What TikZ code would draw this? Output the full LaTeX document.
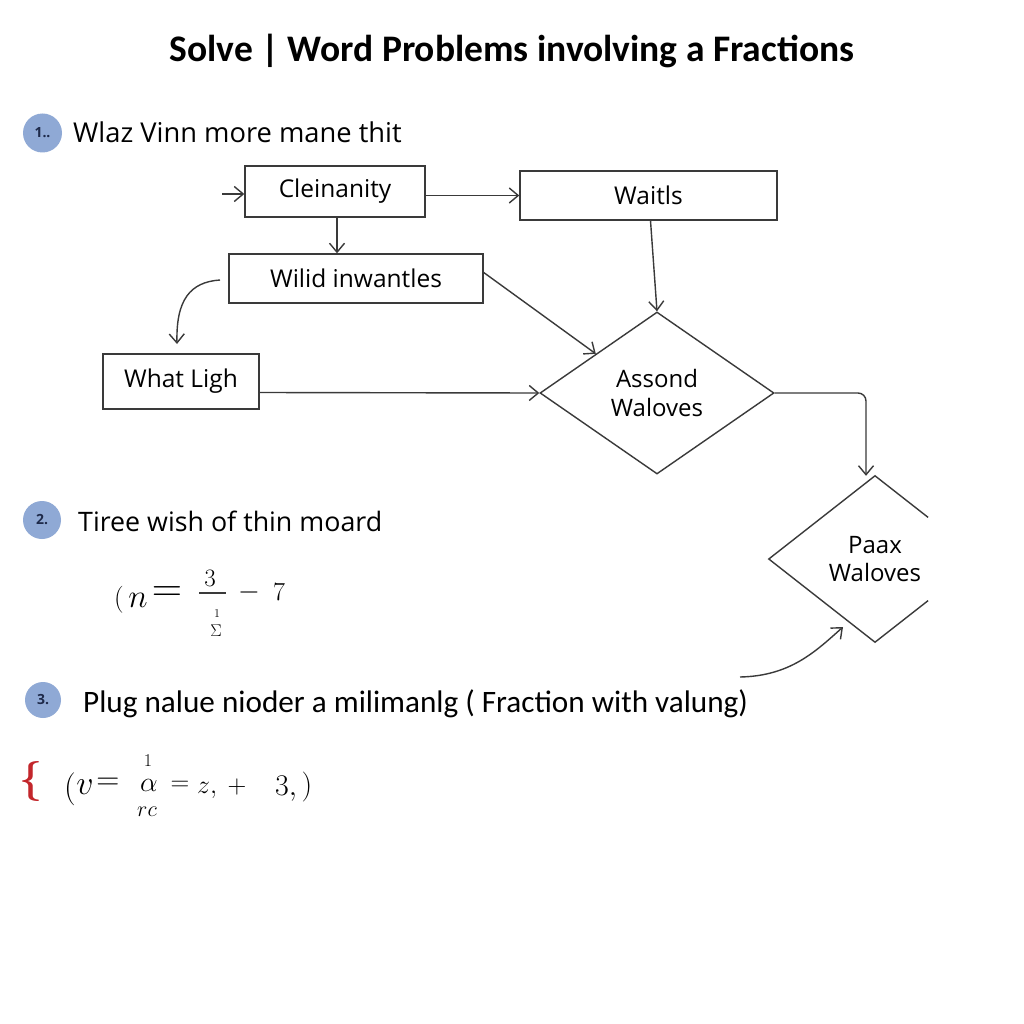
\RequirePackage{fix-cm}
\documentclass[tikz,border=0pt]{standalone}
\usepackage{fontspec}
\setmainfont{Open Sans}
\newfontfamily\calfont{Carlito}
\usetikzlibrary{arrows.meta,shapes.geometric,calc}
\definecolor{linec}{HTML}{3A3A3A}
\definecolor{numblue}{HTML}{8FA9D5}
\definecolor{navy}{HTML}{1E2A4A}
\definecolor{bracered}{HTML}{C3262B}
\newcommand{\fs}[1]{\fontsize{#1}{#1}\selectfont}
\begin{document}
\begin{tikzpicture}[x=1pt,y=-1pt,
  line/.style={draw=linec, line width=1.4pt},
  arr/.style={line, -{Straight Barb[length=9pt,width=15pt,line width=1.4pt]}},
  box/.style={draw=linec, line width=1.4pt, rectangle, inner sep=0pt, font=\fontsize{24.5}{28}\selectfont},
  dia/.style={diamond, inner sep=0pt, align=center, font=\fontsize{24}{28.5}\selectfont},
  num/.style={circle, fill=numblue, inner sep=0pt, text=navy, font=\bfseries\fs{14}},
  steptext/.style={anchor=base west, inner sep=0pt, text=black},
  mth/.style={inner sep=0pt, text=black}
]
\useasboundingbox[fill=white] (0,0) rectangle (1024,1024);

% title
\node[anchor=base, inner sep=0pt, font=\calfont\bfseries\fontsize{37.5}{40}\selectfont] (title) at (512,62) {Solve | Word Problems involving a Fractions};

% step 1
\node[num, minimum size=39pt] (n1) at (42.5,133) {1..};
\node[steptext, font=\fontsize{27.3}{30}\selectfont] (s1) at (73,143) {Wlaz Vinn more mane thit};

% flowchart
\node[box, minimum width=180pt, minimum height=51pt] (clein) at (335,191.5) {Cleinanity};
\node[box, minimum width=257pt, minimum height=49pt] (waitls) at (648.5,195.5) {Waitls};
\node[box, minimum width=254pt, minimum height=49pt] (wilid) at (356,278.5) {Wilid inwantles};
\node[box, minimum width=156pt, minimum height=55pt] (what) at (181,381.5) {What Ligh};
\node[dia, draw=linec, line width=1.4pt, minimum width=234pt, minimum height=162pt] (assond) at (657,393) {Assond\\Waloves};
\node[dia, minimum width=212pt, minimum height=166pt] (paax) at (875,559) {Paax\\Waloves};
\draw[line] ($(paax.north)!0.5!(paax.east)$) -- (paax.north) -- (paax.west) -- (paax.south) -- ($(paax.south)!0.5!(paax.east)$);

\coordinate (in0) at (222,194);
\coordinate (wc) at (220,280);
\coordinate (wt) at (177,344);
\coordinate (pc) at (740,677);
\coordinate (pt) at (843,627);

\draw[arr] (in0) -- (in0 -| clein.west);
\draw[arr] ([yshift=-4pt]clein.east) -- (waitls.west);
\draw[arr] ([xshift=2pt]clein.south) -- ([xshift=2pt]clein.south |- wilid.north);
\draw[arr] ([yshift=6pt]wilid.east) -- ($(assond.west)!0.48!(assond.north)$);
\draw[arr] ([xshift=2pt]waitls.south) -- (assond.north);
\draw[arr] ([yshift=-11pt]what.east) -- (assond.west);
\draw[arr, rounded corners=8pt] (assond.east) -| ([xshift=-9pt]paax.north);
\draw[arr] (wc) .. controls (190,282) and (176,300) .. (wt);
\draw[arr] (pc) .. controls (790,676) and (815,652) .. (pt);

% step 2
\node[num, minimum size=38pt] (n2) at (42,520) {2.};
\node[steptext, font=\fontsize{26.8}{30}\selectfont] (s2) at (78,531) {Tiree wish of thin moard};
\node[mth, font=\fs{27}] (m2p) at (119,600) {$($};
\node[mth, font=\fs{33}] (m2n) at (138,600) {$n$};
\node[mth, font=\fs{42}] (m2eq) at (167,594) {$=$};
\node[mth, font=\fs{25}] (m2num) at (210,578) {$3$};
\draw[line, line width=1.2pt] (199,593) -- (226,593);
\node[mth, font=\fs{12}] (m2one) at (217,614) {$1$};
\node[mth, font=\fs{17}] (m2den) at (216,631) {$\Sigma$};
\node[mth, font=\fs{28}] (m2minus) at (249,592) {$-$};
\node[mth, font=\fs{26}] (m2seven) at (279,592) {$7$};

% step 3
\node[num, minimum size=36pt] (n3) at (43,700) {3.};
\node[steptext, font=\calfont\fontsize{31.2}{34}\selectfont] (s3) at (83,712) {Plug nalue nioder a milimanlg ( Fraction with valung)};
\node[mth, text=bracered, font=\fs{40}\boldmath] (brace) at (31,781) {$\lbrace$};
\node[mth, font=\fs{33}] (m3p) at (70,789) {$($};
\node[mth, font=\fs{34}] (m3v) at (85,787) {$v$};
\node[mth, font=\fs{32}] (m3eq) at (108,784) {$=$};
\node[mth, font=\fs{18}] (m3one) at (148,761) {$1$};
\node[mth, font=\fs{28}] (m3al) at (149,785) {$\alpha$};
\node[mth, font=\fs{22}] (m3den) at (147,812) {$rc$};
\node[mth, font=\fs{26}] (m3eq2) at (180,786) {$=$};
\node[mth, anchor=base west, font=\fs{26}] (m3z) at (197,793) {$z,$};
\node[mth, font=\fs{26}] (m3plus) at (237,787) {$+$};
\node[mth, anchor=base west, font=\fs{30}] (m3three) at (275,795) {$3,$};
\node[mth, font=\fs{30}] (m3close) at (307,787) {$)$};
\end{tikzpicture}
\end{document}
